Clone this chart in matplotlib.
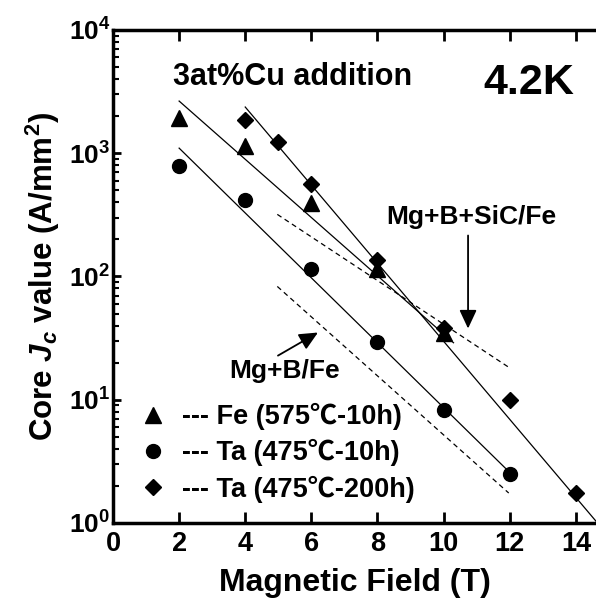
import numpy as np
import matplotlib
matplotlib.use("Agg")
from matplotlib import pyplot as plt
from matplotlib.ticker import FuncFormatter, LogLocator, NullFormatter

plt.rcParams['font.family'] = ['Liberation Sans', 'Noto Sans CJK JP', 'DejaVu Sans']
plt.rcParams['font.weight'] = 'bold'
plt.rcParams['mathtext.fontset'] = 'custom'
plt.rcParams['mathtext.rm'] = 'Liberation Sans:bold'
plt.rcParams['mathtext.it'] = 'Liberation Sans:italic:bold'
plt.rcParams['mathtext.bf'] = 'Liberation Sans:bold'

# measured points
fe_x = [2, 4, 6, 8, 10]
fe_jc = [1930, 1140, 392, 116, 34.6]
ta10_x = [2, 4, 6, 8, 10, 12]
ta10_jc = [784, 415, 114, 29.5, 8.3, 2.5]
ta200_x = [4, 5, 6, 8, 10, 12, 14]
ta200_jc = [1850, 1230, 560, 135, 38, 10, 1.74]

# fit lines (end points)
fit_fe_x = [2, 10.3]
fit_fe_jc = [2650, 29]
fit_ta10_x = [2, 11.95]
fit_ta10_jc = [1100, 2.65]
fit_ta200_x = [4, 14.8]
fit_ta200_jc = [2370, 0.9]

# reference wires (dashed)
ref_sic_x = [4.97, 12.03]
ref_sic_jc = [319, 17.9]
ref_mgb_x = [4.97, 11.97]
ref_mgb_jc = [83, 1.75]

labels = ['--- Fe (575℃-10h)', '--- Ta (475℃-10h)', '--- Ta (475℃-200h)']

fig = plt.figure(figsize=(5.96, 6.03), dpi=100)
ax = fig.add_axes([0.1896, 0.1327, 0.8104, 0.8176])

ax.plot(fit_fe_x, fit_fe_jc, color='k', lw=0.9)
ax.plot(fit_ta10_x, fit_ta10_jc, color='k', lw=0.9)
ax.plot(fit_ta200_x, fit_ta200_jc, color='k', lw=0.9)
ax.plot(ref_sic_x, ref_sic_jc, color='k', lw=0.9, ls=(0, (4, 3)))
ax.plot(ref_mgb_x, ref_mgb_jc, color='k', lw=0.9, ls=(0, (4, 3)))

ax.plot(fe_x, fe_jc, '^', color='k', ms=11, ls='none', label=labels[0])
ax.plot(ta10_x, ta10_jc, 'o', color='k', ms=10, ls='none', label=labels[1])
ax.plot(ta200_x, ta200_jc, 'D', color='k', ms=8.5, ls='none', label=labels[2])

ax.set_yscale('log')
ax.set_xlim(0, 14.61)
ax.set_ylim(1, 1e4)
ax.set_xticks(range(0, 15, 2))
ax.yaxis.set_major_locator(LogLocator(base=10))
ax.yaxis.set_minor_locator(LogLocator(base=10, subs=np.arange(2, 10)))
ax.yaxis.set_minor_formatter(NullFormatter())
ax.yaxis.set_major_formatter(FuncFormatter(lambda v, p: r'$\mathrm{10^{%d}}$' % round(np.log10(v))))

ax.tick_params(axis='x', which='major', direction='in', top=True, length=8, width=2,
               labelsize=19.5, pad=6)
ax.tick_params(axis='y', which='major', direction='in', length=6, width=2,
               labelsize=19, pad=2)
ax.tick_params(axis='y', which='minor', direction='in', length=4, width=1.5)
for s in ['left', 'bottom', 'top']:
    ax.spines[s].set_linewidth(2.5)
ax.spines['right'].set_visible(False)

ax.set_xlabel('Magnetic Field (T)', fontsize=23, fontweight='bold', labelpad=8)
ax.set_ylabel('Core $J_c$ value (A/mm$^2$)', fontsize=22.5, fontweight='bold', labelpad=5)

ax.text(0.124, 0.905, '3at%Cu addition', transform=ax.transAxes, fontsize=22,
        fontweight='bold', va='center', ha='left')
ax.text(0.766, 0.893, '4.2K', transform=ax.transAxes, fontsize=31,
        fontweight='bold', va='center', ha='left')

arrow = dict(arrowstyle='-|>,head_length=0.75,head_width=0.35', mutation_scale=15,
             color='k', lw=1.3, shrinkA=0, shrinkB=0)
ax.annotate('', xy=(10.74, 37.8), xytext=(10.74, 215), arrowprops=arrow)
ax.text(10.83, 302, 'Mg+B+SiC/Fe', fontsize=19, fontweight='bold', ha='center', va='center')
ax.annotate('', xy=(6.2, 35.1), xytext=(4.99, 22.8), arrowprops=arrow)
ax.text(5.18, 17.2, 'Mg+B/Fe', fontsize=19, fontweight='bold', ha='center', va='center')

ax.legend(loc='upper left', bbox_to_anchor=(0.01, 0.282), frameon=False,
          fontsize=19.5, handlelength=1.2, handletextpad=0.46, labelspacing=0.34,
          borderaxespad=0.3, numpoints=1)

fig.savefig('out.png', dpi=100)
